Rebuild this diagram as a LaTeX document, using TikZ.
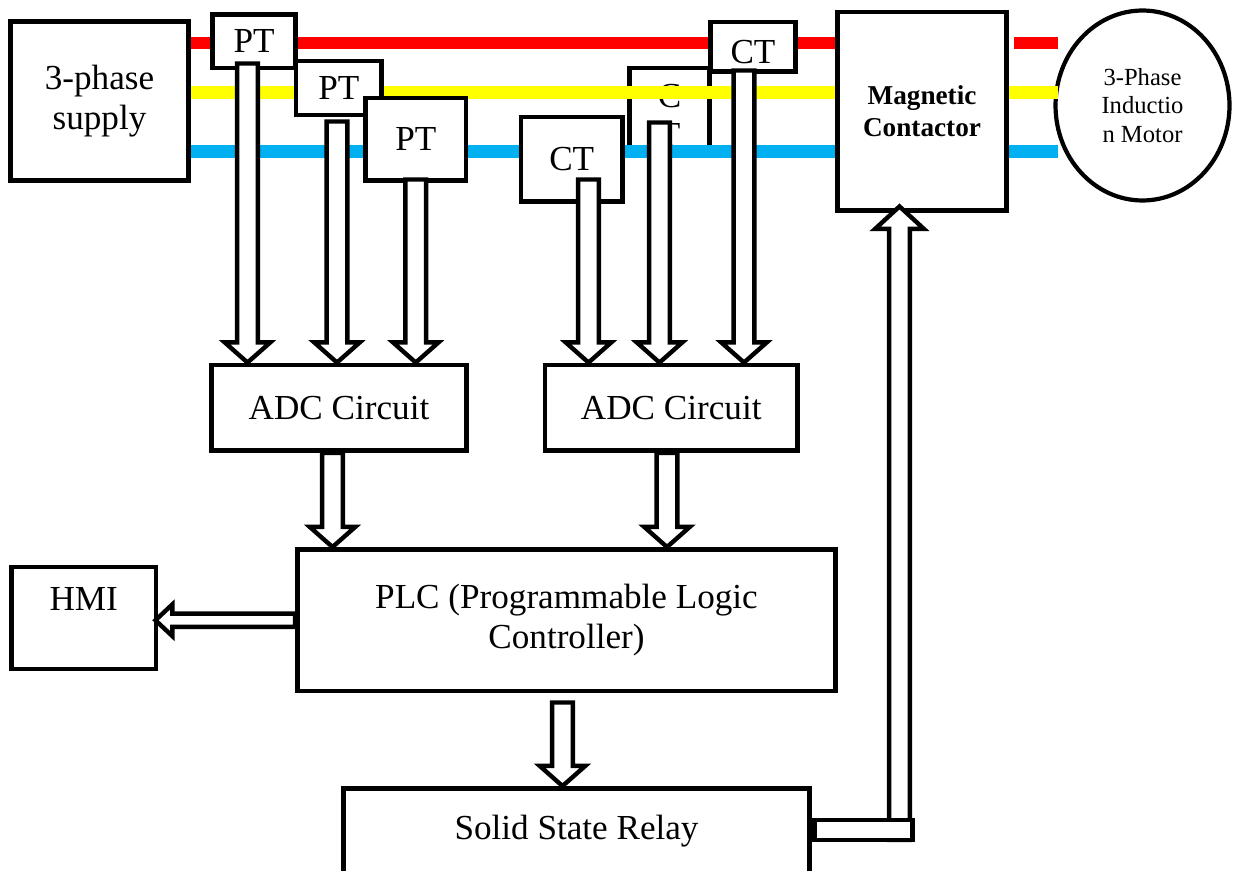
\documentclass[tikz,border=0pt]{standalone}
\usepackage{fontspec}
\setmainfont{Liberation Serif}
\usepackage{tikz}
\usetikzlibrary{shapes,arrows,positioning,calc}

\definecolor{phasered}{RGB}{255,0,0}
\definecolor{phaseyellow}{RGB}{255,255,0}
\definecolor{phaseblue}{RGB}{0,176,240}

\newcommand{\fatdown}[2]{%
  \draw[fat] let \p1=#1, \p2=#2 in
    (\x1-5.9pt,\y1) -- (\x1+5.9pt,\y1) -- (\x1+5.9pt,\y2+11.5pt) -- (\x1+13pt,\y2+11.5pt)
    -- (\x1,\y2) -- (\x1-13pt,\y2+11.5pt) -- (\x1-5.9pt,\y2+11.5pt) -- cycle;}

\begin{document}
\begin{tikzpicture}[
    x=0.02cm, y=-0.02cm,
    box/.style={rectangle, draw, line width=2.8pt, fill=white, inner sep=0pt, align=center, font=\fontsize{20}{23}\selectfont},
    fat/.style={draw, line width=2.5pt, fill=white},
    phase/.style={line width=7.2pt}
]
\useasboundingbox (0,0) rectangle (1236,871);
\clip (0,0) rectangle (1236,871);

\node[box, minimum width=3.56cm, minimum height=3.18cm] (supply) at (99.5,101) {3-phase\\supply};
\node[box, minimum width=3.38cm, minimum height=3.97cm, font=\fontsize{15.5}{18}\selectfont\bfseries] (mc) at (922,111.25) {Magnetic\\Contactor};
\node[ellipse, draw, line width=2.4pt, inner sep=0pt, minimum width=3.48cm, minimum height=3.8cm, align=center, font=\fontsize{14}{16}\selectfont] (motor) at (1142.5,105.5) {3-Phase\\Inductio\\n Motor};
\node[box, minimum width=1.61cm, minimum height=1.66cm, label={[font=\fontsize{20}{22}\selectfont, align=center, yshift=-3.2pt]center:{C\\T}}] (ct2) at (669.5,109.5) {};

\coordinate (redY) at (0,43);
\coordinate (yellowY) at (0,92.7);
\coordinate (blueY) at (0,151.7);
\coordinate (stubR) at (1057.5,0);
\draw[phase, phasered] (supply.east |- redY) -- (mc.west |- redY);
\draw[phase, phaseyellow] (supply.east |- yellowY) -- (mc.west |- yellowY);
\draw[phase, phaseblue] (supply.east |- blueY) -- (mc.west |- blueY);
\draw[phase, phasered] ($(mc.east |- redY)+(5.5,0)$) -- (stubR |- redY);
\draw[phase, phaseyellow] (mc.east |- yellowY) -- (stubR |- yellowY);
\draw[phase, phaseblue] (mc.east |- blueY) -- (stubR |- blueY);

\node[box, minimum width=1.66cm, minimum height=1.07cm] (pt1) at (254,41.25) {PT};
\node[box, minimum width=1.71cm, minimum height=1.08cm] (pt2) at (338.75,88) {PT};
\node[box, minimum width=2.01cm, minimum height=1.65cm] (pt3) at (415.75,139.25) {PT};
\node[box, minimum width=2.03cm, minimum height=1.69cm] (ct1) at (571.75,159.25) {CT};
\node[box, minimum width=1.71cm, minimum height=0.99cm] (ct3) at (753,46.75) {\raisebox{-9.5pt}[0pt][0pt]{CT}};

\node[box, minimum width=5.10cm, minimum height=1.71cm] (adc1) at (339,407.75) {ADC Circuit};
\node[box, minimum width=5.05cm, minimum height=1.71cm] (adc2) at (671.25,407.75) {ADC Circuit};
\node[box, minimum width=10.76cm, minimum height=2.83cm] (plc) at (566.5,620.25) {PLC (Programmable Logic\\Controller)};
\node[box, minimum width=2.89cm, minimum height=2.04cm] (hmi) at (83.75,618) {\raisebox{4.5pt}[0pt][0pt]{HMI}};
\node[box, minimum width=9.32cm, minimum height=1.71cm] (ssr) at (576.5,831.25) {Solid State Relay};

\fatdown{($(pt1.south)+(-6.5,-7)$)}{(adc1.north)}
\fatdown{($(pt2.south)+(-1.75,4)$)}{(adc1.north)}
\fatdown{($(pt3.south)+(0,-3.5)$)}{(adc1.north)}
\fatdown{($(ct1.south)+(16.75,-24.5)$)}{(adc2.north)}
\fatdown{($(ct2.south)+(-10,-31)$)}{(adc2.north)}
\fatdown{($(ct3.south)+(-9,-3.5)$)}{(adc2.north)}
\fatdown{($(adc1.south)+(-6.5,0)$)}{(plc.north)}
\fatdown{($(adc2.south)+(-4.25,0)$)}{(plc.north)}
\fatdown{($(plc.south)+(-4,9)$)}{(ssr.north)}

\draw[fat] let \p1=(plc.west), \p2=($(hmi.east)+(-3,0)$) in
    (\x1,\y1+3.8pt) -- (\x2+9.6pt,\y1+3.8pt) -- (\x2+9.6pt,\y1+9pt) -- (\x2,\y1)
    -- (\x2+9.6pt,\y1-9pt) -- (\x2+9.6pt,\y1-3.8pt) -- (\x1,\y1-3.8pt) -- cycle;
\draw[fat] let \p1=($(mc.south)+(-22.5,-6.5)$), \p2=($(ssr.east)+(0,8.75)$) in
    (\x1-5.9pt,\y2) -- (\x1+5.9pt,\y2) -- (\x1+5.9pt,\y1-12.8pt) -- (\x1+13.9pt,\y1-12.8pt)
    -- (\x1,\y1) -- (\x1-13.9pt,\y1-12.8pt) -- (\x1-5.9pt,\y1-12.8pt) -- cycle;
\draw[fat] ($(ssr.east)+(2.5,-11.25)$) rectangle ($(ssr.east)+(100.5,8.75)$);
\end{tikzpicture}
\end{document}
